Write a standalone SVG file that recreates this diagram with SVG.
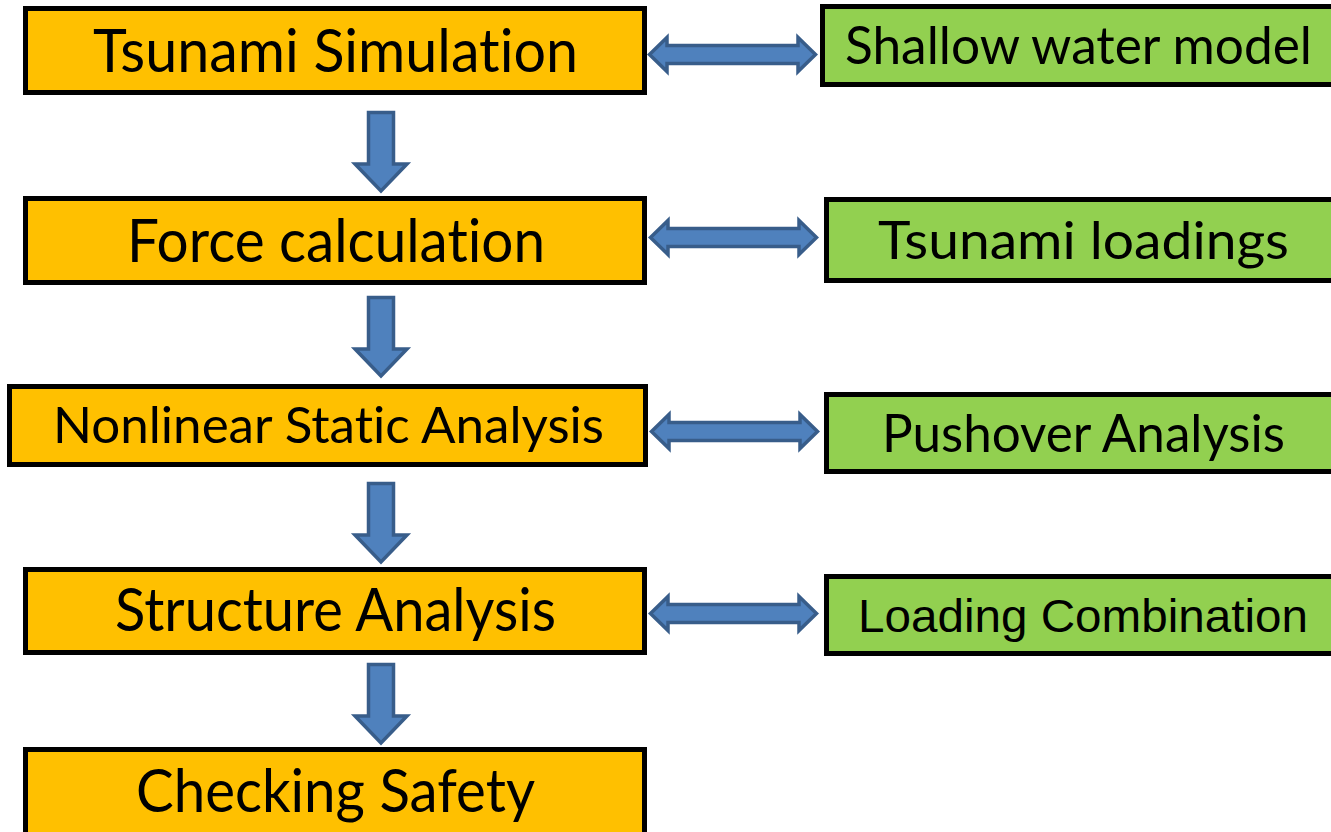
<svg xmlns="http://www.w3.org/2000/svg" xmlns:xlink="http://www.w3.org/1999/xlink" width="1331" height="832" viewBox="0 0 1331 832">
<style>
.ob{fill:#FFC000;stroke:#000;stroke-width:5}
.gb{fill:#92D050;stroke:#000;stroke-width:5}
.t{font-family:Lato,"Open Sans","Liberation Sans",sans-serif;fill:#000;text-anchor:middle;font-variant-ligatures:none;font-feature-settings:"liga" 0,"clig" 0,"dlig" 0}
.ta{font-family:"Liberation Sans",Arial,sans-serif;fill:#000;text-anchor:middle}
.arr{fill:#4F81BD;stroke:#385D8A;stroke-width:3.5;stroke-linejoin:miter}
</style>
<defs>
<path id="down" d="M-12.5,1.5 H12.5 V53 H26 L0,80 L-26,53 H-12.5 Z"/>
<path id="dbl" d="M1.5,0 L19,-17 V-9 H150 V-17 L167.5,0 L150,17 V9 H19 V17 Z"/>
</defs>
<rect width="1331" height="832" fill="#fff"/>
<g id="connectors">
<use xlink:href="#down" class="arr" transform="translate(381,111)"/>
<use xlink:href="#down" class="arr" transform="translate(381,296)"/>
<use xlink:href="#down" class="arr" transform="translate(381,482)"/>
<use xlink:href="#down" class="arr" transform="translate(381,663)"/>
<use xlink:href="#dbl" class="arr" transform="translate(648,54.5)"/>
<use xlink:href="#dbl" class="arr" transform="translate(649,237.5)"/>
<use xlink:href="#dbl" class="arr" transform="translate(650,431.5)"/>
<use xlink:href="#dbl" class="arr" transform="translate(649,613.5)"/>
</g>
<g id="tsunami-simulation">
<rect class="ob" x="25.5" y="8.5" width="619" height="84"/>
<text class="t" x="335.5" y="72" font-size="60" textLength="485" lengthAdjust="spacingAndGlyphs">Tsunami Simulation</text>
</g>
<g id="force-calculation">
<rect class="ob" x="25.5" y="198.5" width="619" height="84"/>
<text class="t" x="336" y="262" font-size="60" textLength="418" lengthAdjust="spacingAndGlyphs">Force calculation</text>
</g>
<g id="nonlinear-static-analysis">
<rect class="ob" x="9.5" y="386.5" width="636" height="78"/>
<text class="t" x="328.5" y="443" font-size="50" textLength="551" lengthAdjust="spacingAndGlyphs">Nonlinear Static Analysis</text>
</g>
<g id="structure-analysis">
<rect class="ob" x="25.5" y="569.5" width="619" height="83"/>
<text class="t" x="335.5" y="631" font-size="60" textLength="441" lengthAdjust="spacingAndGlyphs">Structure Analysis</text>
</g>
<g id="checking-safety">
<rect class="ob" x="25.5" y="749.5" width="619" height="100"/>
<text class="t" x="335.5" y="812" font-size="60" textLength="399" lengthAdjust="spacingAndGlyphs">Checking Safety</text>
</g>
<g id="shallow-water-model">
<rect class="gb" x="822.5" y="6.5" width="520" height="78"/>
<text class="t" x="1078.5" y="64" font-size="52" textLength="467" lengthAdjust="spacingAndGlyphs">Shallow water model</text>
</g>
<g id="tsunami-loadings">
<rect class="gb" x="826.5" y="199.5" width="520" height="81"/>
<text class="t" x="1083.5" y="259" font-size="52" textLength="411" lengthAdjust="spacingAndGlyphs">Tsunami loadings</text>
</g>
<g id="pushover-analysis">
<rect class="gb" x="826.5" y="394.5" width="520" height="77"/>
<text class="t" x="1083.5" y="452" font-size="52" textLength="403" lengthAdjust="spacingAndGlyphs">Pushover Analysis</text>
</g>
<g id="loading-combination">
<rect class="gb" x="826.5" y="576.5" width="520" height="77"/>
<text class="ta" x="1083" y="632" font-size="46" textLength="450" lengthAdjust="spacingAndGlyphs">Loading Combination</text>
</g>
</svg>
